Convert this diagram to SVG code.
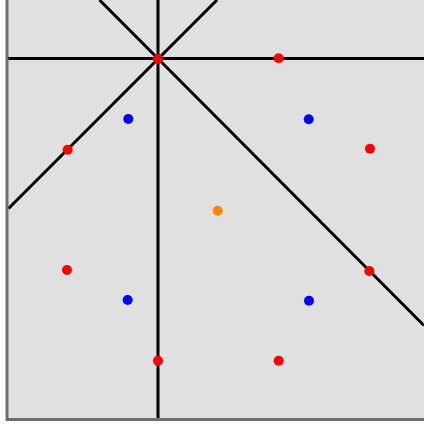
<svg xmlns="http://www.w3.org/2000/svg" width="424" height="425" viewBox="0 0 424 425">
<style>
.ln{stroke:#000;stroke-width:3;fill:none}
.ax{stroke:#6e6e6e;stroke-width:3;fill:none}
.r{fill:#ff0000}.b{fill:#0000ff}.o{fill:#ff8800}
</style>
<rect width="424" height="425" fill="#ffffff"/>
<rect x="7" y="0" width="417" height="419.5" fill="#e0e0e0"/>
<g id="connectors">
<line class="ln" x1="8" y1="58.5" x2="424" y2="58.5"/>
<line class="ln" x1="158" y1="0" x2="158" y2="418"/>
<line class="ln" x1="99.5" y1="0" x2="424" y2="325.5"/>
<line class="ln" x1="8.5" y1="208.5" x2="217" y2="0"/>
<polyline class="ax" points="7,0 7,419.5 424,419.5"/>
</g>
<g id="points">
<circle class="r" cx="158" cy="59" r="5"/>
<circle class="r" cx="278.7" cy="58.3" r="5"/>
<circle class="b" cx="128.3" cy="119" r="5"/>
<circle class="b" cx="308.7" cy="119.3" r="5"/>
<circle class="r" cx="67.7" cy="149.7" r="5"/>
<circle class="r" cx="370" cy="148.7" r="5"/>
<circle class="o" cx="217.7" cy="210.7" r="5"/>
<circle class="r" cx="67" cy="270" r="5"/>
<circle class="r" cx="369.3" cy="271" r="5"/>
<circle class="b" cx="127.7" cy="300" r="5"/>
<circle class="b" cx="309" cy="300.7" r="5"/>
<circle class="r" cx="158" cy="360.7" r="5"/>
<circle class="r" cx="278.7" cy="360.7" r="5"/>
</g>
</svg>
